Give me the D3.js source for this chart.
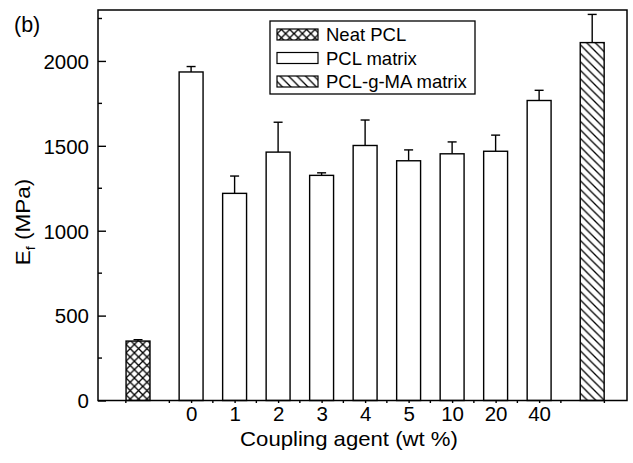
<!DOCTYPE html>
<html>
<head>
<meta charset="utf-8">
<script src="https://cdn.jsdelivr.net/npm/d3@7/dist/d3.min.js"></script>
<style>
  html, body { margin: 0; padding: 0; background: #fff; }
  svg { display: block; }
  text { font-family: "Liberation Sans", Arial, sans-serif; fill: #000; }
</style>
</head>
<body>
<div id="chart"></div>
<script>
// ---------- data ----------
const groups = ["Neat PCL", "PCL matrix", "PCL matrix", "PCL matrix", "PCL matrix", "PCL matrix", "PCL matrix", "PCL matrix", "PCL matrix", "PCL matrix", "PCL-g-MA matrix"];
const xValues = [-1.22, 0, 1, 2, 3, 4, 5, 6, 7, 8, 9.22];
const xTickValues = [0, 1, 2, 3, 4, 5, 6, 7, 8];
const xTickLabels = ["0", "1", "2", "3", "4", "5", "10", "20", "40"];
const modulus = [350, 1935, 1220, 1463, 1326, 1502, 1412, 1453, 1468, 1767, 2108];
const errors = [8, 32, 102, 176, 15, 150, 64, 70, 95, 60, 166];
const yTicks = [0, 500, 1000, 1500, 2000];
const yMinorTicks = [250, 750, 1250, 1750, 2250];
const legendItems = ["Neat PCL", "PCL matrix", "PCL-g-MA matrix"];

// ---------- layout ----------
const W = 633, H = 463;
const pL = 98, pR = 627, pT = 10, pB = 400.5;

const svg = d3.select("#chart").append("svg").attr("width", W).attr("height", H);
const defs = svg.append("defs");

// cross hatch
const ph = defs.append("pattern").attr("id", "cross").attr("patternUnits", "userSpaceOnUse")
  .attr("width", 8.4).attr("height", 8.4).attr("x", 0).attr("y", 0);
ph.append("rect").attr("width", 8.4).attr("height", 8.4).attr("fill", "#fff");
ph.append("path").attr("d", "M0,0L8.4,8.4M8.4,0L0,8.4").attr("stroke", "#000").attr("stroke-width", 1.3).attr("fill", "none");

// diagonal "\" hatch
const pd = defs.append("pattern").attr("id", "diag").attr("patternUnits", "userSpaceOnUse")
  .attr("width", 8.5).attr("height", 8.5);
pd.append("rect").attr("width", 8.5).attr("height", 8.5).attr("fill", "#fff");
pd.append("path").attr("d", "M0,0L8.5,8.5M-2,6.5L2,10.5M6.5,-2L10.5,2").attr("stroke", "#000").attr("stroke-width", 1.3).attr("fill", "none");

const fillFor = g => g === "Neat PCL" ? "url(#cross)" : (g === "PCL-g-MA matrix" ? "url(#diag)" : "#fff");

const x = d3.scaleLinear().domain([-2.14, 10.02]).range([pL, pR]);
const y = d3.scaleLinear().domain([0, 2300]).range([pB, pT]);
const barW = x(0.55) - x(0);

// bars
const data = modulus.map((v, i) => ({ v, e: errors[i], g: groups[i], xv: xValues[i] }));
const barG = svg.append("g");
data.forEach(d => {
  const cx = x(d.xv);
  barG.append("line").attr("x1", cx).attr("x2", cx).attr("y1", y(d.v)).attr("y2", y(d.v + d.e))
    .attr("stroke", "#000").attr("stroke-width", 1.4);
  barG.append("line").attr("x1", cx - 4.5).attr("x2", cx + 4.5).attr("y1", y(d.v + d.e)).attr("y2", y(d.v + d.e))
    .attr("stroke", "#000").attr("stroke-width", 1.4);
  barG.append("rect").attr("x", cx - barW / 2).attr("y", y(d.v)).attr("width", barW).attr("height", y(0) - y(d.v))
    .attr("fill", fillFor(d.g)).attr("stroke", "#000").attr("stroke-width", 1.4);
});

// y axis (ticks inward)
const yAxis = svg.append("g").attr("transform", `translate(${pL},0)`)
  .call(d3.axisLeft(y).tickValues(yTicks).tickFormat(d3.format("d")).tickSizeInner(-8).tickSizeOuter(0).tickPadding(9));
yAxis.select(".domain").remove();
yAxis.selectAll(".tick line").attr("stroke", "#000").attr("stroke-width", 1.4);
yAxis.selectAll(".tick text").attr("font-size", 20.5).attr("font-family", "Liberation Sans, Arial, sans-serif")
  .attr("dy", "0.36em");
svg.append("g").selectAll("line").data(yMinorTicks).join("line")
  .attr("x1", pL).attr("x2", pL + 4).attr("y1", d => y(d)).attr("y2", d => y(d))
  .attr("stroke", "#000").attr("stroke-width", 1.4);

// x axis
const xAxis = svg.append("g").attr("transform", `translate(0,${pB})`)
  .call(d3.axisBottom(x).tickValues(xTickValues).tickFormat((d, i) => xTickLabels[i]).tickSize(2.5).tickPadding(3));
xAxis.select(".domain").remove();
xAxis.selectAll(".tick line").attr("stroke", "#000").attr("stroke-width", 1.4);
xAxis.selectAll(".tick text").attr("font-size", 20.5).attr("font-family", "Liberation Sans, Arial, sans-serif");
const halfTicks = d3.range(-1.5, 9.6, 1);
svg.append("g").selectAll("line").data(halfTicks).join("line")
  .attr("x1", d => x(d)).attr("x2", d => x(d)).attr("y1", pB).attr("y2", pB + 2.5)
  .attr("stroke", "#000").attr("stroke-width", 1.4);

// frame
svg.append("rect").attr("x", pL).attr("y", pT).attr("width", pR - pL).attr("height", pB - pT)
  .attr("fill", "none").attr("stroke", "#000").attr("stroke-width", 1.5);

// axis titles
svg.append("text").attr("x", 349 / 1.08).attr("y", 446).attr("text-anchor", "middle")
  .attr("font-size", 20.5).attr("transform", "scale(1.08,1)").text("Coupling agent (wt %)");

const yt = svg.append("text").attr("transform", "translate(30,222) rotate(-90) scale(1.1,1)")
  .attr("text-anchor", "middle").attr("font-size", 20.5);
yt.append("tspan").text("E");
yt.append("tspan").attr("font-size", 13).attr("dy", 5).text("f");
yt.append("tspan").attr("dy", -5).text(" (MPa)");

// panel label
svg.append("text").attr("x", 14).attr("y", 32).attr("font-size", 21.5).text("(b)");

// legend
const lg = svg.append("g");
lg.append("rect").attr("x", 270).attr("y", 21).attr("width", 205).attr("height", 73)
  .attr("fill", "#fff").attr("stroke", "#000").attr("stroke-width", 1.3);
const legendFill = [fillFor("Neat PCL"), "#fff", fillFor("PCL-g-MA matrix")];
legendItems.forEach((t, i) => {
  const cy = 34.5 + i * 23.5;
  lg.append("rect").attr("x", 277).attr("y", cy - 5.5).attr("width", 41).attr("height", 11)
    .attr("fill", legendFill[i]).attr("stroke", "#000").attr("stroke-width", 1.2);
  lg.append("text").attr("x", 326).attr("y", cy + 6.5).attr("font-size", 18.5).text(t);
});
</script>
</body>
</html>
